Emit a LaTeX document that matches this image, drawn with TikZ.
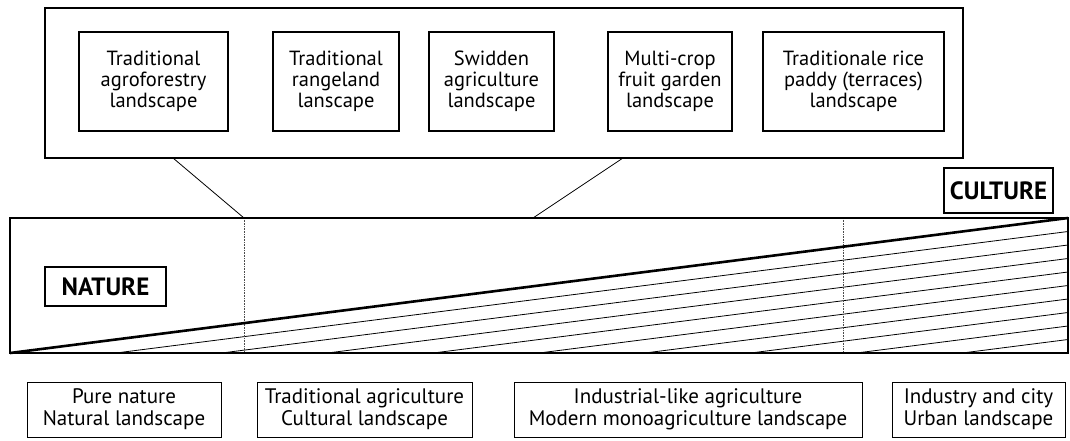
\documentclass[tikz,border=0pt]{standalone}
\usepackage{fontspec}
\setmainfont{PT Sans}
\usepackage{tikz}
\usetikzlibrary{calc}

\begin{document}
\begin{tikzpicture}[x=1pt, y=-1pt,
    typebox/.style={draw, line width=1.1pt, inner sep=0pt, align=center,
        minimum height=99pt, font=\fontsize{20.5}{21}\selectfont},
    stagebox/.style={draw, line width=0.9pt, inner sep=0pt, align=center,
        minimum height=55pt, font=\fontsize{21}{22}\selectfont},
    polebox/.style={draw, line width=1.1pt, inner sep=0pt,
        font=\fontsize{25}{26}\selectfont\bfseries},
    band/.style={line width=2pt},
    hatch/.style={line width=0.8pt},
    divider/.style={densely dotted, line width=0.6pt, black!70}]
    \useasboundingbox (0,0) rectangle (1070,440);
    % landscape types on top
    \node[draw, line width=1.3pt, minimum width=918pt, minimum height=150pt] (types) at (504,83) {};
    \node[typebox, minimum width=149pt] (agro) at (153.5,81.5) {Traditional\\agroforestry\\landscape};
    \node[typebox, minimum width=126pt] (range) at (336,81.5) {Traditional\\rangeland\\lanscape};
    \node[typebox, minimum width=125pt] (swidden) at (491.5,81.5) {Swidden\\agriculture\\landscape};
    \node[typebox, minimum width=124pt] (fruit) at (670,81.5) {Multi-crop\\fruit garden\\landscape};
    \node[typebox, minimum width=181pt] (paddy) at (853.5,81.5) {Traditionale rice\\paddy (terraces)\\landscape};
    % the band from nature to culture
    \coordinate (bandSW) at (10,353);
    \coordinate (bandNE) at (1068,218);
    \coordinate (divA) at (244,218);
    \coordinate (divB) at (843,218);
    \foreach \i in {1,...,9}
        \draw[hatch] ({10+105.8*\i},353) -- (1068,{218+13.5*\i});
    \draw[divider] (divA) -- (divA |- bandSW);
    \draw[divider] (divB) -- (divB |- bandSW);
    \draw[line width=2.6pt] (bandSW) -- (bandNE);
    \draw[band] (bandSW) rectangle (bandNE);
    % zoom lines
    \coordinate (typesA) at (173,158);
    \coordinate (typesB) at (623,158);
    \coordinate (divC) at (533,218);
    \draw[line width=0.8pt] (typesA) -- (divA);
    \draw[line width=0.8pt] (typesB) -- (divC);
    \node[polebox, minimum width=121pt, minimum height=39pt] (nature) at (105.5,286.5) {NATURE};
    \node[polebox, minimum width=109pt, minimum height=45pt] (culture) at (998.5,190.5) {CULTURE};
    % stages below
    \node[stagebox, minimum width=194pt] (pure) at (124,409.5) {Pure nature\\Natural landscape};
    \node[stagebox, minimum width=215pt] (trad) at (364.5,409.5) {Traditional agriculture\\Cultural landscape};
    \node[stagebox, minimum width=348pt] (indag) at (688,409.5) {Industrial-like agriculture\\Modern monoagriculture landscape};
    \node[stagebox, minimum width=173pt] (city) at (978.5,409.5) {Industry and city\\Urban landscape};
\end{tikzpicture}
\end{document}
